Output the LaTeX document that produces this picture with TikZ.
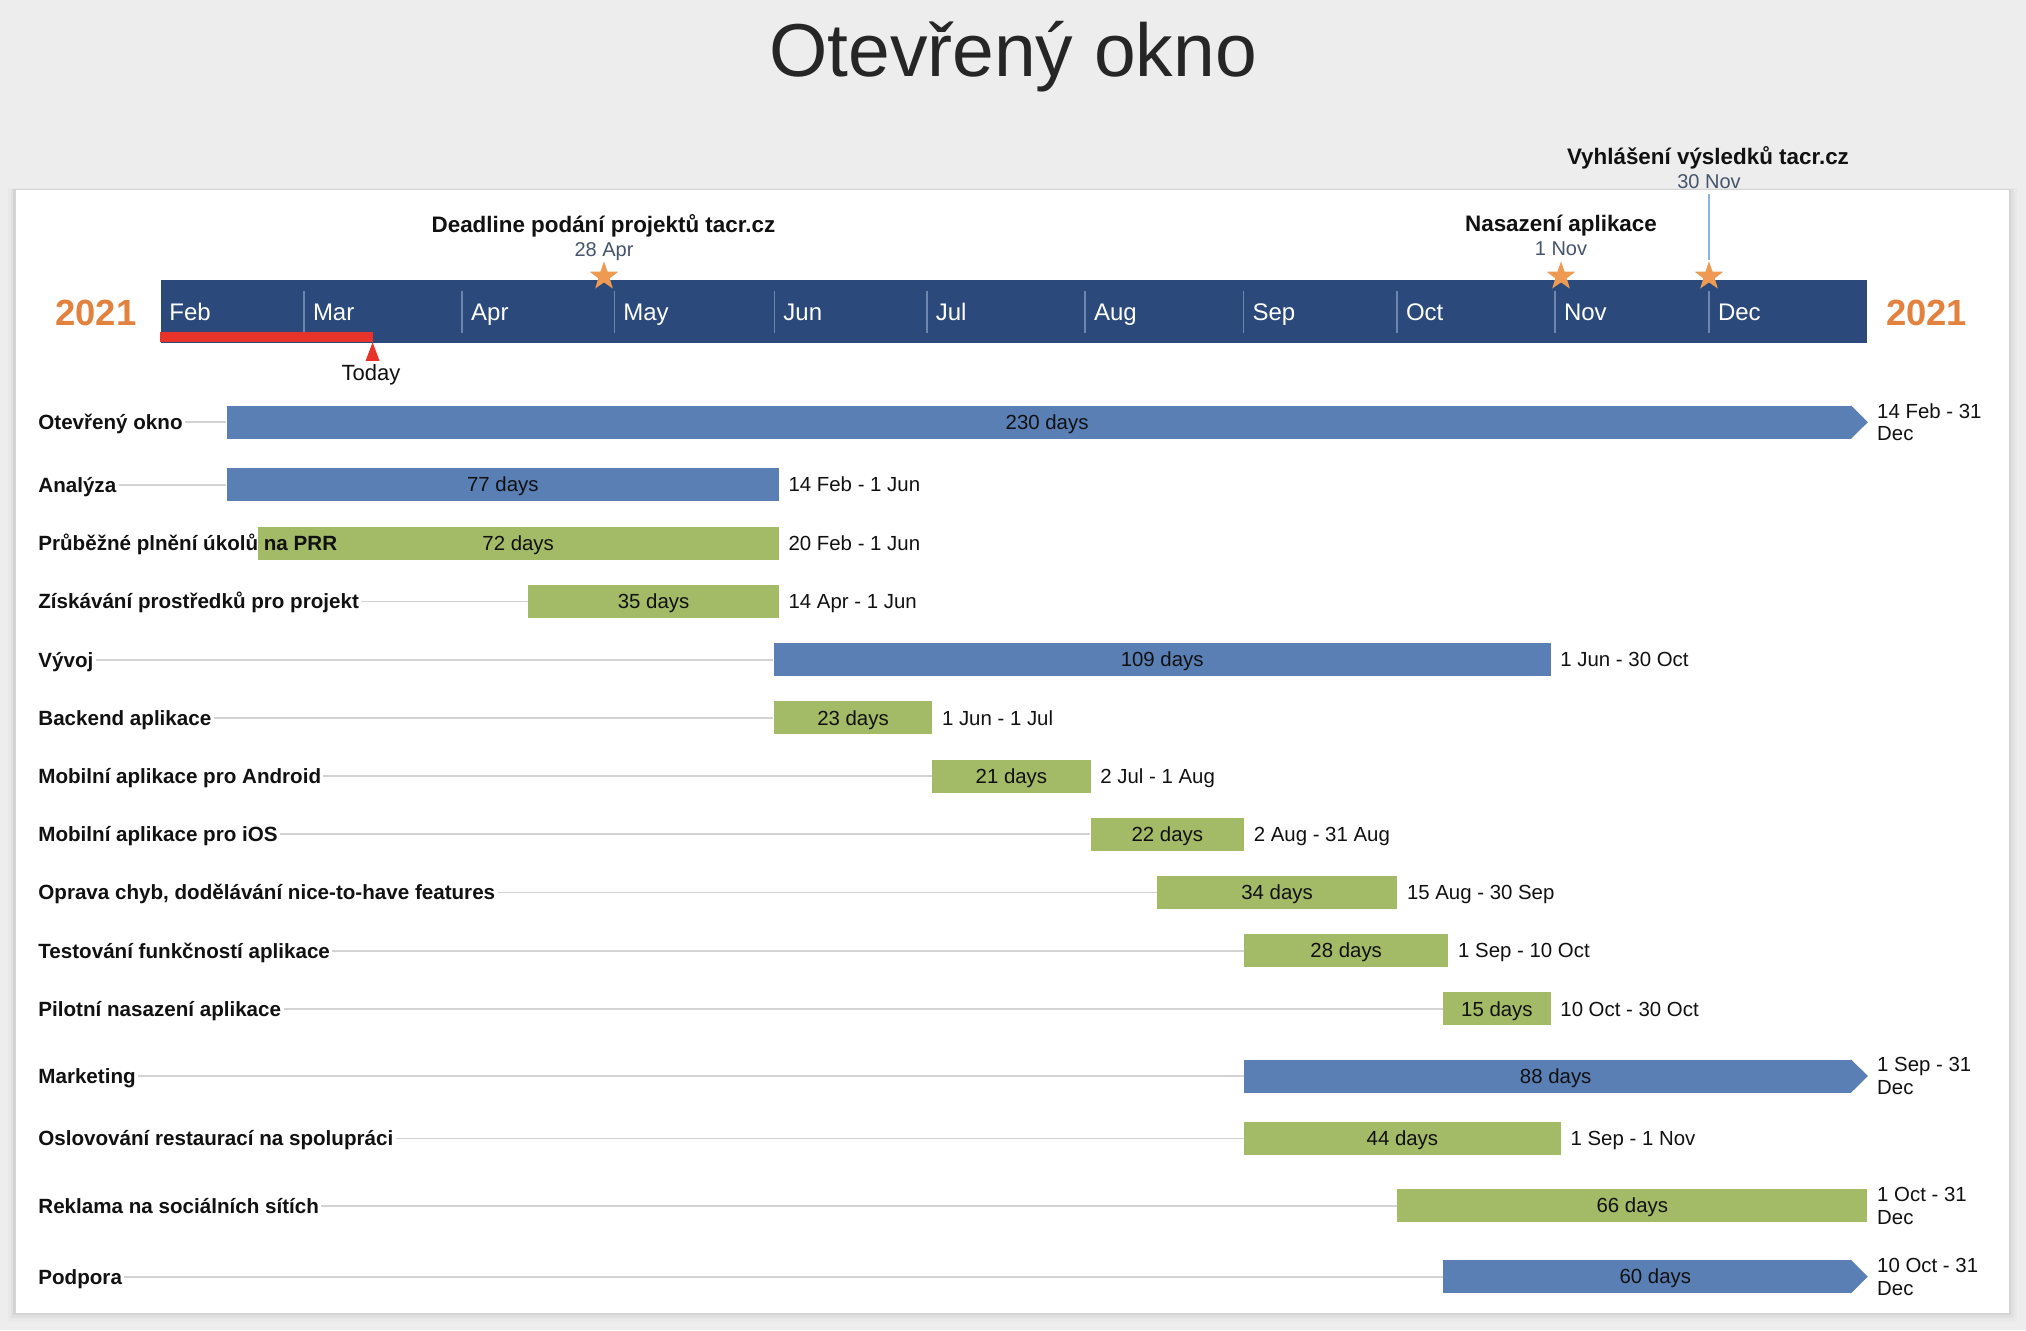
\documentclass[tikz,border=0pt]{standalone}
\usepackage{fontspec}
\setmainfont{Liberation Sans}
\usepackage{tikz}
\usetikzlibrary{shapes.geometric,positioning}

\definecolor{pagegray}{HTML}{EDEDED}
\definecolor{scalenavy}{HTML}{2B4A7B}
\definecolor{taskblue}{HTML}{5A7FB5}
\definecolor{taskgreen}{HTML}{A3BA66}
\definecolor{todayred}{HTML}{E8332A}
\definecolor{starorange}{HTML}{EE9A52}
\definecolor{yearorange}{HTML}{E3823F}
\definecolor{mildate}{HTML}{44546A}
\definecolor{divline}{HTML}{6E86AD}
\definecolor{rowgray}{HTML}{D3D3D3}
\definecolor{milline}{HTML}{8DB4E2}
\definecolor{ink}{HTML}{111111}
\definecolor{titleink}{HTML}{262626}

\begin{document}
\begin{tikzpicture}[
    x=1pt, y=-1pt,
    task/.style={anchor=west, inner sep=1pt, text=ink, font=\bfseries\fontsize{10.3}{12}\selectfont, text height=7.4pt, text depth=0pt},
    taskbar/.style={anchor=west, inner sep=0pt, minimum height=16.5pt, text=ink, font=\fontsize{10.2}{12}\selectfont, text height=7.3pt, text depth=0pt},
    bluebar/.style={taskbar, fill=taskblue},
    greenbar/.style={taskbar, fill=taskgreen},
    datespan/.style={anchor=west, inner sep=0pt, text=ink, font=\fontsize{10.2}{12}\selectfont, text height=7.3pt, text depth=0pt},
    datespantwo/.style={anchor=west, inner sep=0pt, text=ink, align=left, font=\fontsize{10.2}{11.4}\selectfont},
    rowline/.style={draw=rowgray, line width=0.9pt},
    month/.style={anchor=base west, inner sep=0pt, text=white, font=\fontsize{12}{14}\selectfont},
    divider/.style={draw=divline, line width=0.8pt},
    milestar/.style={star, star points=5, star point ratio=2.5, fill=starorange, minimum size=15pt, inner sep=0pt},
    miletitle/.style={anchor=base, inner sep=0pt, text=ink, font=\bfseries\fontsize{11.2}{13}\selectfont},
    miledate/.style={anchor=base, inner sep=0pt, text=mildate, font=\fontsize{10}{12}\selectfont},
    year/.style={anchor=base, inner sep=0pt, text=yearorange, font=\bfseries\fontsize{18.2}{22}\selectfont}
]
    \useasboundingbox (0,0) rectangle (1013,665);
    \fill[pagegray] (0,0) rectangle (1013,665);
    \foreach \s/\o in {4/0.02,2.5/0.03,1.2/0.05}
        \fill[black, opacity=\o] (7.8-\s,95-0.3*\s) rectangle (1004.5+\s,656.5+\s);
    \fill[white] (7.8,95) rectangle (1004.5,656.5);

    \node[anchor=base, inner sep=0pt, text=titleink, font=\fontsize{37.5}{44}\selectfont] (title) at (506.5,38.3) {Otevřený okno};

    % time scale
    \node[fill=scalenavy, inner sep=0pt, minimum width=853.3pt, minimum height=31.2pt, anchor=north west] (scale) at (80.2,140) {};
    \foreach \x in {152,231.1,307.2,387.2,463.4,542.5,621.8,698.5,777.5,854.5}
        \draw[divider] (\x,145.3) -- (\x,166.4);
    \foreach \m/\x in {Feb/80.2,Mar/152,Apr/231.1,May/307.2,Jun/387.2,Jul/463.4,Aug/542.5,Sep/621.8,Oct/698.5,Nov/777.5,Dec/854.5}
        \node[month] at (\x+4.3,160) {\m};
    \fill[todayred] (80.2,165.9) rectangle (186.3,171.2);
    \fill[todayred] (186.3,171.2) -- (182.8,180.4) -- (189.8,180.4) -- cycle;
    \node[anchor=base, inner sep=0pt, text=ink, font=\fontsize{11}{13}\selectfont] (today) at (185.5,190.3) {Today};
    \node[year] (y1) at (47.9,162.5) {2021};
    \node[year] (y2) at (963.3,162.5) {2021};

    % milestones
    \node[milestar] (s1) at (302,138.2) {};
    \node[milestar] (s2) at (780.5,138.2) {};
    \node[milestar] (s3) at (854.5,138.2) {};
    \node[miletitle] (m1) at (301.7,116.3) {Deadline podání projektů tacr.cz};
    \node[miledate] (m1d) at (302,128) {28 Apr};
    \node[miletitle] (m2) at (780.5,115.8) {Nasazení aplikace};
    \node[miledate] (m2d) at (780.5,127.5) {1 Nov};
    \node[miletitle] (m3) at (854,82) {Vyhlášení výsledků tacr.cz};
    \node[miledate] (m3d) at (854.5,94.2) {30 Nov};
    \draw[draw=milline, line width=0.9pt] (s3.north) -- ([yshift=-2.3pt]m3d.south);

    % bars
    \node[bluebar, minimum width=812.3pt] (b1) at (113.2,211.1) {\hspace*{8pt}230 days};
    \node[bluebar, minimum width=276pt] (b2) at (113.2,242.3) {77 days};
    \node[greenbar, minimum width=260.6pt] (b3) at (128.6,271.5) {72 days};
    \node[greenbar, minimum width=125.2pt] (b4) at (264,300.7) {35 days};
    \node[bluebar, minimum width=388.4pt] (b5) at (386.7,329.8) {109 days};
    \node[greenbar, minimum width=79.2pt] (b6) at (386.7,358.9) {23 days};
    \node[greenbar, minimum width=79.2pt] (b7) at (465.9,388) {21 days};
    \node[greenbar, minimum width=76.7pt] (b8) at (545.1,417.1) {22 days};
    \node[greenbar, minimum width=120.1pt] (b9) at (578.3,446.2) {34 days};
    \node[greenbar, minimum width=102.2pt] (b10) at (621.8,475.3) {28 days};
    \node[greenbar, minimum width=53.7pt] (b11) at (721.4,504.4) {15 days};
    \node[bluebar, minimum width=303.7pt] (b12) at (621.8,538) {\hspace*{8pt}88 days};
    \node[greenbar, minimum width=158.4pt] (b13) at (621.8,569.2) {44 days};
    \node[greenbar, minimum width=235.1pt] (b14) at (698.4,602.8) {66 days};
    \node[bluebar, minimum width=204.1pt] (b15) at (721.4,638.3) {\hspace*{8pt}60 days};
    \foreach \b in {b1,b12,b15}
        \fill[taskblue] ([xshift=-0.5pt]\b.north east) -- ([xshift=8pt]\b.east) -- ([xshift=-0.5pt]\b.south east) -- cycle;

    \node[datespantwo, right=12.5pt of b1] (d1) {14 Feb - 31\\Dec};
    \node[datespan, right=4.5pt of b2] (d2) {14 Feb - 1 Jun};
    \node[datespan, right=4.5pt of b3] (d3) {20 Feb - 1 Jun};
    \node[datespan, right=4.5pt of b4] (d4) {14 Apr - 1 Jun};
    \node[datespan, right=4.5pt of b5] (d5) {1 Jun - 30 Oct};
    \node[datespan, right=4.5pt of b6] (d6) {1 Jun - 1 Jul};
    \node[datespan, right=4.5pt of b7] (d7) {2 Jul - 1 Aug};
    \node[datespan, right=4.5pt of b8] (d8) {2 Aug - 31 Aug};
    \node[datespan, right=4.5pt of b9] (d9) {15 Aug - 30 Sep};
    \node[datespan, right=4.5pt of b10] (d10) {1 Sep - 10 Oct};
    \node[datespan, right=4.5pt of b11] (d11) {10 Oct - 30 Oct};
    \node[datespantwo, right=12.5pt of b12] (d12) {1 Sep - 31\\Dec};
    \node[datespan, right=4.5pt of b13] (d13) {1 Sep - 1 Nov};
    \node[datespantwo, right=4.5pt of b14] (d14) {1 Oct - 31\\Dec};
    \node[datespantwo, right=12.5pt of b15] (d15) {10 Oct - 31\\Dec};

    % task names
    \node[task] (l1) at (18,211.1) {Otevřený okno};
    \node[task] (l2) at (18,242.3) {Analýza};
    \node[task] (l3) at (18,271.5) {Průběžné plnění úkolů na PRR};
    \node[task] (l4) at (18,300.7) {Získávání prostředků pro projekt};
    \node[task] (l5) at (18,329.8) {Vývoj};
    \node[task] (l6) at (18,358.9) {Backend aplikace};
    \node[task] (l7) at (18,388) {Mobilní aplikace pro Android};
    \node[task] (l8) at (18,417.1) {Mobilní aplikace pro iOS};
    \node[task] (l9) at (18,446.2) {Oprava chyb, dodělávání nice-to-have features};
    \node[task] (l10) at (18,475.3) {Testování funkčností aplikace};
    \node[task] (l11) at (18,504.4) {Pilotní nasazení aplikace};
    \node[task] (l12) at (18,538) {Marketing};
    \node[task] (l13) at (18,569.2) {Oslovování restaurací na spolupráci};
    \node[task] (l14) at (18,602.8) {Reklama na sociálních sítích};
    \node[task] (l15) at (18,638.3) {Podpora};

    \foreach \i in {1,2,4,5,...,15}
        \draw[rowline] (l\i) -- (b\i);
\end{tikzpicture}
\end{document}
